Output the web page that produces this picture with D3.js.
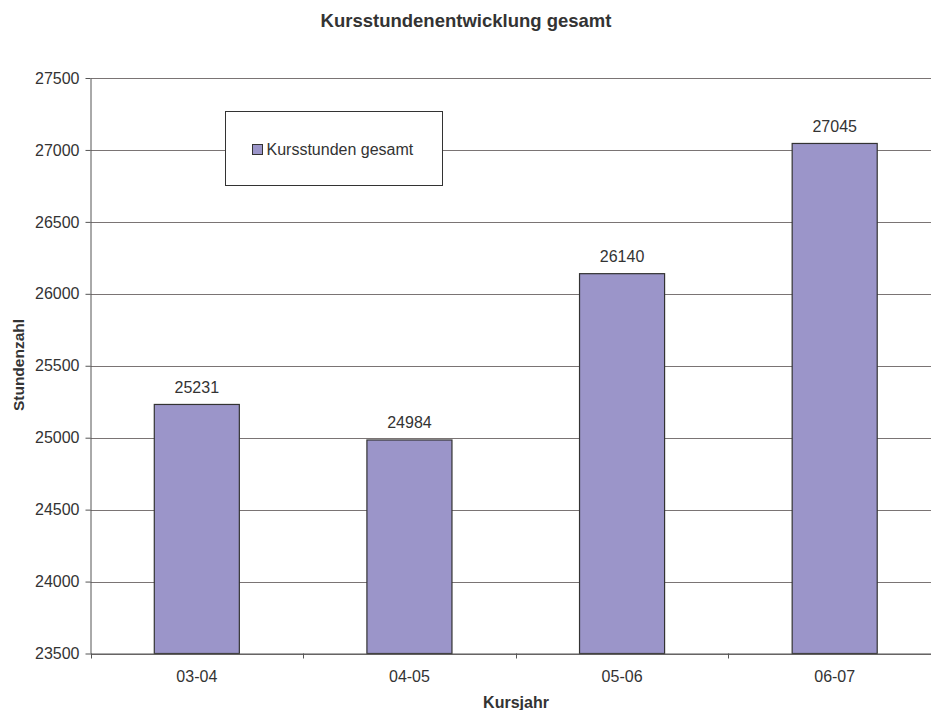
<!DOCTYPE html>
<html>
<head>
<meta charset="utf-8">
<script src="https://cdn.jsdelivr.net/npm/d3@7"></script>
<style>
  html, body { margin: 0; padding: 0; background: #fff; }
  svg { display: block; font-family: "Liberation Sans", Arial, sans-serif; }
</style>
</head>
<body>
<svg id="chart" width="931" height="710"></svg>
<script>
// Kursjahre und Kursstunden gesamt
const categories = ["03-04", "04-05", "05-06", "06-07"];
const hours = [25231, 24984, 26140, 27045];
const yTicks = [23500, 24000, 24500, 25000, 25500, 26000, 26500, 27000, 27500];
const seriesName = "Kursstunden gesamt";

const svg = d3.select("#chart");
const plotLeft = 90.5, plotRight = 941, plotTop = 78, plotBottom = 653.5;

const x = d3.scaleBand().domain(categories).range([plotLeft, plotRight]).paddingInner(0.6).paddingOuter(0.3);
const band = d3.scaleBand().domain(categories).range([plotLeft, plotRight]);
const y = d3.scaleLinear().domain([23500, 27500]).range([plotBottom, plotTop]);

const gridColor = "#7a7474";
const textColor = "#333";
const fontSize = 16;

// Titel
svg.append("text")
  .attr("x", 466).attr("y", 27)
  .attr("text-anchor", "middle")
  .attr("font-weight", "bold").attr("font-size", 18.5)
  .attr("fill", textColor)
  .text("Kursstundenentwicklung gesamt");

// Horizontale Gitterlinien
svg.append("g").selectAll("line").data(yTicks).join("line")
  .attr("x1", plotLeft).attr("x2", plotRight)
  .attr("y1", d => Math.round(y(d)) + 0.5).attr("y2", d => Math.round(y(d)) + 0.5)
  .attr("stroke", gridColor).attr("stroke-width", 1);

// y-Achse
const yAxis = svg.append("g")
  .attr("transform", `translate(${plotLeft},0)`)
  .call(d3.axisLeft(y).tickValues(yTicks).tickSize(5).tickSizeOuter(0).tickFormat(d3.format("d")));
yAxis.select(".domain").attr("stroke", "#555");
yAxis.selectAll(".tick line").attr("stroke", "#555");
yAxis.selectAll(".tick text")
  .attr("font-size", fontSize).attr("fill", textColor)
  .attr("font-family", "Liberation Sans, Arial, sans-serif")
  .attr("x", -11);

// Balken
svg.append("g").selectAll("rect").data(categories).join("rect")
  .attr("x", d => x(d))
  .attr("width", x.bandwidth())
  .attr("y", (d, i) => y(hours[i]))
  .attr("height", (d, i) => plotBottom - y(hours[i]))
  .attr("fill", "#9b95c9")
  .attr("stroke", "#333").attr("stroke-width", 1.2);

// Werte über den Balken
svg.append("g").selectAll("text").data(categories).join("text")
  .attr("x", d => x(d) + x.bandwidth() / 2)
  .attr("y", (d, i) => y(hours[i]) - 11.5)
  .attr("text-anchor", "middle")
  .attr("font-size", fontSize).attr("fill", textColor)
  .text((d, i) => hours[i]);

// x-Achse
const xAxis = svg.append("g")
  .attr("transform", `translate(0,${plotBottom})`)
  .call(d3.axisBottom(band).tickSize(0).tickSizeOuter(0));
xAxis.select(".domain").attr("stroke", "#555");
xAxis.selectAll(".tick text")
  .attr("font-size", fontSize).attr("fill", textColor)
  .attr("font-family", "Liberation Sans, Arial, sans-serif")
  .attr("y", 28.5).attr("dy", null);
// Trennstriche zwischen den Kategorien
svg.append("g").selectAll("line").data(categories.concat(["end"])).join("line")
  .attr("x1", (d, i) => Math.round(plotLeft + i * band.bandwidth()) + 0.5)
  .attr("x2", (d, i) => Math.round(plotLeft + i * band.bandwidth()) + 0.5)
  .attr("y1", plotBottom).attr("y2", plotBottom + 5)
  .attr("stroke", "#555");

// Achsentitel
svg.append("text")
  .attr("x", 516).attr("y", 708)
  .attr("text-anchor", "middle")
  .attr("font-weight", "bold").attr("font-size", fontSize)
  .attr("fill", textColor)
  .text("Kursjahr");

svg.append("text")
  .attr("transform", "translate(24,365) rotate(-90)")
  .attr("text-anchor", "middle")
  .attr("font-weight", "bold").attr("font-size", 15.5)
  .attr("fill", textColor)
  .text("Stundenzahl");

// Legende
const legend = svg.append("g");
legend.append("rect")
  .attr("x", 225.5).attr("y", 111.5).attr("width", 217).attr("height", 74)
  .attr("fill", "#fff").attr("stroke", "#333").attr("stroke-width", 1);
legend.append("rect")
  .attr("x", 252.5).attr("y", 144.5).attr("width", 10).attr("height", 10)
  .attr("fill", "#9b95c9").attr("stroke", "#333").attr("stroke-width", 1);
legend.append("text")
  .attr("x", 266.5).attr("y", 155)
  .attr("font-size", fontSize).attr("fill", textColor)
  .text(seriesName);
</script>
</body>
</html>
